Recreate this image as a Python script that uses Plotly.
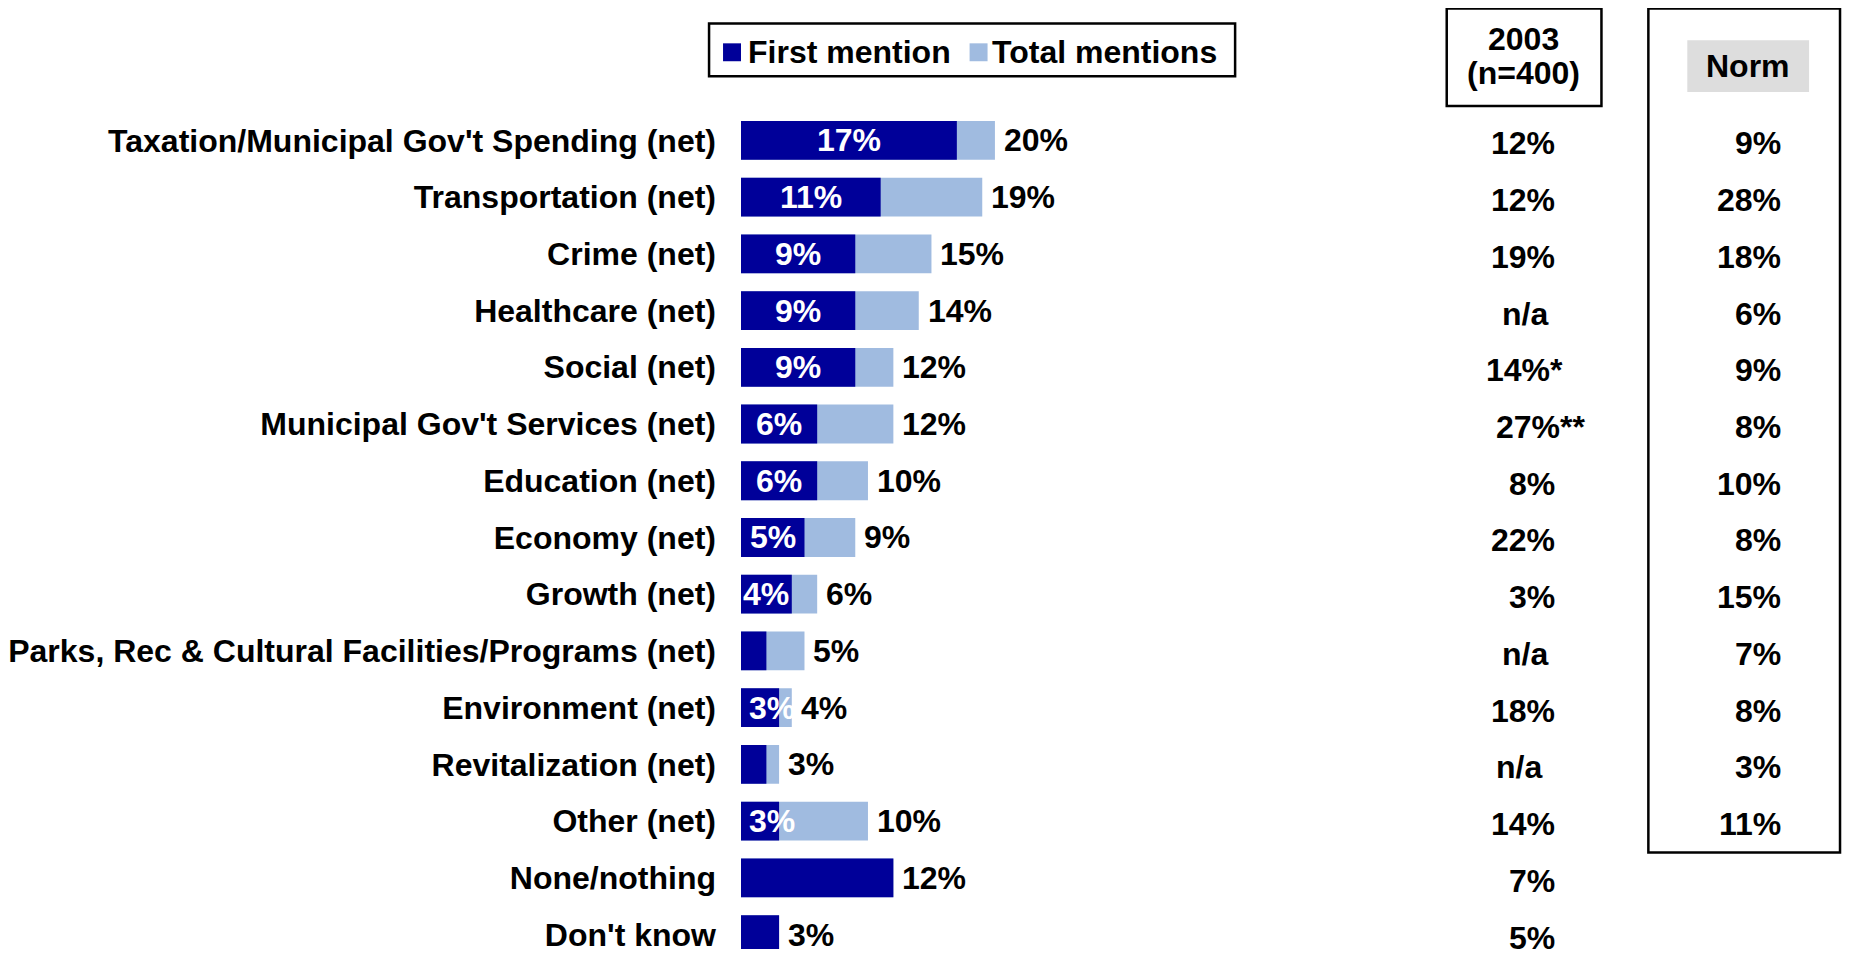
import plotly.graph_objects as go

categories = [
    "Taxation/Municipal Gov't Spending (net)",
    "Transportation (net)",
    "Crime (net)",
    "Healthcare (net)",
    "Social (net)",
    "Municipal Gov't Services (net)",
    "Education (net)",
    "Economy (net)",
    "Growth (net)",
    "Parks, Rec & Cultural Facilities/Programs (net)",
    "Environment (net)",
    "Revitalization (net)",
    "Other (net)",
    "None/nothing",
    "Don't know",
]
first_mention = [17, 11, 9, 9, 9, 6, 6, 5, 4, 2, 3, 2, 3, 12, 3]
total_mentions = [20, 19, 15, 14, 12, 12, 10, 9, 6, 5, 4, 3, 10, 12, 3]
# labels shown inside the dark bars ("" = no label)
first_labels = ["17%", "11%", "9%", "9%", "9%", "6%", "6%", "5%", "4%", "", "3%", "", "3%", "", ""]
total_labels = ["20%", "19%", "15%", "14%", "12%", "12%", "10%", "9%", "6%", "5%", "4%", "3%", "10%", "12%", "3%"]
col_2003 = ["12%", "12%", "19%", "n/a", "14%*", "27%**", "8%", "22%", "3%", "n/a", "18%", "n/a", "14%", "7%", "5%"]
col_norm = ["9%", "28%", "18%", "6%", "9%", "8%", "10%", "8%", "15%", "7%", "8%", "3%", "11%", "", ""]

DARK = "#000099"
LIGHT = "#A0BBE0"
FONT = "Liberation Sans, Arial, sans-serif"
FS = 32

# the page body adds an 8px margin, so work in page pixels and shift back
OFF = 8
FW, FH = 1851 - OFF, 953 - OFF
L, T = 739 - OFF, 112 - OFF
W, H = FW - L, FH - T
PX_PER_PCT = 12.72


def px(x):
    return (x - OFF - L) / W


def py(y):
    return (FH - (y - OFF)) / H


fig = go.Figure()
fig.add_trace(go.Bar(y=categories, x=total_mentions, orientation="h", name="Total mentions",
                     marker=dict(color=LIGHT, line=dict(width=0)), width=0.684))
fig.add_trace(go.Bar(y=categories, x=first_mention, orientation="h", name="First mention",
                     marker=dict(color=DARK, line=dict(width=0)), width=0.684))

bold = dict(family=FONT, size=FS, color="black", weight="bold")
white = dict(family=FONT, size=FS, color="white", weight="bold")

ann = []
for cat, f, t, fl, tl in zip(categories, first_mention, total_mentions, first_labels, total_labels):
    ann.append(dict(x=t, y=cat, xref="x", yref="y", text=tl, showarrow=False,
                    xanchor="left", xshift=7, font=bold))
    if fl:
        if f <= 3:
            ann.append(dict(x=0, y=cat, xref="x", yref="y", text=fl, showarrow=False,
                            xanchor="left", xshift=6, font=white))
        else:
            ann.append(dict(x=f / 2, y=cat, xref="x", yref="y", text=fl, showarrow=False,
                            xanchor="center", font=white))

# 2003 column alignment
align_2003 = ["r", "r", "r", "c", "c", "l", "r", "r", "r", "c", "r", "l", "r", "r", "r"]
anchors = {"r": (1556, "right"), "c": (1524, "center"), "l": (1493, "left")}
for cat, v, a in zip(categories, col_2003, align_2003):
    xp, xa = anchors[a]
    ann.append(dict(x=px(xp), y=cat, xref="paper", yref="y", text=v, showarrow=False,
                    xanchor=xa, yshift=-3, font=bold))
for cat, v in zip(categories, col_norm):
    if v:
        ann.append(dict(x=px(1783), y=cat, xref="paper", yref="y", text=v, showarrow=False,
                        xanchor="right", yshift=-3, font=bold))

# headers
ann.append(dict(x=px(1523), y=py(39), xref="paper", yref="paper", text="2003", showarrow=False,
                xanchor="center", yanchor="middle", font=bold))
ann.append(dict(x=px(1523), y=py(73), xref="paper", yref="paper", text="(n=400)", showarrow=False,
                xanchor="center", yanchor="middle", font=bold))
ann.append(dict(x=px(1748), y=py(66), xref="paper", yref="paper", text="Norm", showarrow=False,
                xanchor="center", yanchor="middle", font=bold))

# legend text
ann.append(dict(x=px(744), y=py(52), xref="paper", yref="paper", text="First mention", showarrow=False,
                xanchor="left", yanchor="middle", font=bold))
ann.append(dict(x=px(988), y=py(52), xref="paper", yref="paper", text="Total mentions", showarrow=False,
                xanchor="left", yanchor="middle", font=bold))

shapes = [
    # 2003 header box
    dict(type="rect", xref="paper", yref="paper", x0=px(1446), x1=px(1601), y0=py(106), y1=py(8),
         line=dict(color="black", width=2.5)),
    # norm column box
    dict(type="rect", xref="paper", yref="paper", x0=px(1648), x1=px(1840), y0=py(856), y1=py(8),
         line=dict(color="black", width=2.5)),
    # norm grey label background
    dict(type="rect", xref="paper", yref="paper", x0=px(1687), x1=px(1809), y0=py(92), y1=py(40),
         line=dict(width=0), fillcolor="#DDDDDD", layer="below"),
    # legend box
    dict(type="rect", xref="paper", yref="paper", x0=px(707), x1=px(1234), y0=py(76), y1=py(23),
         line=dict(color="black", width=2.5)),
    dict(type="rect", xref="paper", yref="paper", x0=px(721), x1=px(739), y0=py(61), y1=py(43),
         line=dict(width=0), fillcolor=DARK),
    dict(type="rect", xref="paper", yref="paper", x0=px(968), x1=px(986), y0=py(61), y1=py(43),
         line=dict(width=0), fillcolor=LIGHT),
]

fig.update_layout(
    width=FW, height=FH,
    margin=dict(l=L, r=0, t=T, b=0, pad=0),
    barmode="overlay",
    showlegend=False,
    plot_bgcolor="white", paper_bgcolor="white",
    annotations=ann,
    shapes=shapes,
    font=dict(family=FONT, size=FS, color="black"),
)
fig.update_xaxes(range=[0, W / PX_PER_PCT], visible=False, fixedrange=True)
fig.update_yaxes(categoryorder="array", categoryarray=categories,
                 range=[14.254, -0.5], showgrid=False, zeroline=False, showline=False,
                 ticks="", ticklabelstandoff=24, tickfont=bold, fixedrange=True)

fig.write_html("out.html")
